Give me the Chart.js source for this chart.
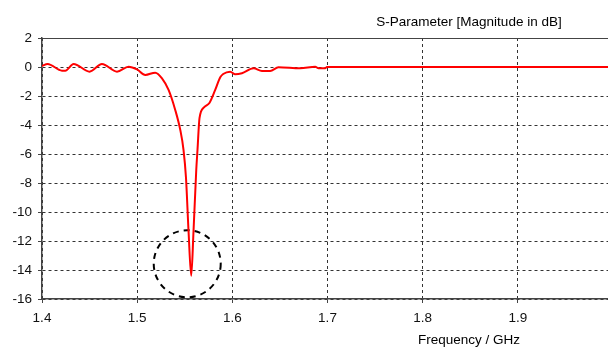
<!DOCTYPE html>
<html>
<head>
<meta charset="utf-8">
<script src="https://cdn.jsdelivr.net/npm/chart.js@4.4.1/dist/chart.umd.min.js"></script>
<style>
  html, body { margin: 0; padding: 0; background: #fff; overflow: hidden; }
  #wrap { width: 640px; height: 347px; position: relative; }
</style>
</head>
<body>
<div id="wrap"><canvas id="sparam"></canvas></div>
<script>
// -----------------------------
// Data
// -----------------------------
const freqGHz = [
  1.4000, 1.4059, 1.4210, 1.4245, 1.4332, 1.4500, 1.4630, 1.4788, 1.4910, 1.4998,
  1.5085, 1.5190, 1.5261, 1.5330, 1.5400, 1.5453, 1.5487, 1.5513, 1.5540, 1.5568,
  1.5592, 1.5621, 1.5634, 1.5655, 1.5705, 1.5761, 1.5820, 1.5873, 1.5904, 1.5978,
  1.6030, 1.6101, 1.6223, 1.6311, 1.6398, 1.6485, 1.6713, 1.6871, 1.6906, 1.6976,
  1.6994, 1.7500, 1.8000, 1.9000, 2.0000
];
const s11dB = [
   0.07,  0.21, -0.25, -0.25,  0.21, -0.32,  0.21, -0.32,  0.02, -0.16,
  -0.55, -0.39, -0.78, -1.58, -2.96, -4.34, -5.71, -7.64, -11.34, -14.40,
  -11.34, -7.09, -5.71, -3.53, -2.77, -2.46, -1.58, -0.71, -0.48, -0.32,
  -0.50, -0.43, -0.09, -0.27, -0.27, -0.02, -0.09,  0.02, -0.09, -0.09,
   0.00,  0.00,  0.00,  0.00,  0.00
];
const xTicks = [1.4, 1.5, 1.6, 1.7, 1.8, 1.9, 2.0];
const yTicks = [-16, -14, -12, -10, -8, -6, -4, -2, 0, 2];
const chartTitle = "S-Parameter [Magnitude in dB]";
const xTitle = "Frequency / GHz";
// dashed circle round the resonance: [GHz, dB], radius in GHz
const markerCenter = [1.5526, -13.57];
const markerRadius = 0.0352;

const FONT = '"Liberation Sans", Arial, sans-serif';

// -----------------------------
// Captions + marker circle
// -----------------------------
const decorations = {
  id: "decorations",
  beforeDatasetsDraw(chart) {
    const { ctx, scales } = chart;
    const cx = scales.x.getPixelForValue(markerCenter[0]);
    const cy = scales.y.getPixelForValue(markerCenter[1]);
    const r = scales.x.getPixelForValue(markerCenter[0] + markerRadius) - cx;
    ctx.save();
    ctx.strokeStyle = "#000";
    ctx.lineWidth = 2;
    ctx.setLineDash([6, 5]);
    ctx.beginPath();
    ctx.arc(cx, cy, r, 0, Math.PI * 2);
    ctx.stroke();
    ctx.restore();
  },
  afterDraw(chart) {
    const { ctx } = chart;
    ctx.save();
    ctx.font = "13.5px " + FONT;
    ctx.fillStyle = "#000";
    ctx.textAlign = "center";
    ctx.textBaseline = "middle";
    ctx.fillText(chartTitle, 469, 22);
    ctx.fillText(xTitle, 469, 340);
    ctx.restore();
  }
};

const gridDash = ctx => (ctx.tick && ctx.tick.value === 2 ? [] : [3, 3]);
const gridColor = ctx => (ctx.tick && ctx.tick.value === 2 ? "#444" : "#333");

new Chart(document.getElementById("sparam"), {
  type: "line",
  data: {
    datasets: [{
      data: freqGHz.map((f, i) => ({ x: f, y: s11dB[i] })),
      borderColor: "#ff0000",
      borderWidth: 2,
      pointRadius: 0,
      cubicInterpolationMode: "monotone",
      fill: false
    }]
  },
  options: {
    responsive: true,
    maintainAspectRatio: false,
    animation: false,
    layout: { padding: { top: 38, right: 27, left: 0, bottom: 0 } },
    plugins: {
      legend: { display: false },
      tooltip: { enabled: false },
      title: { display: false }
    },
    scales: {
      x: {
        type: "linear",
        min: 1.4,
        max: 2.0,
        afterBuildTicks: s => { s.ticks = xTicks.map(v => ({ value: v })); },
        afterFit: s => { s.height = 48; },
        ticks: {
          color: "#111",
          font: { family: FONT, size: 13.5 },
          padding: 7,
          maxRotation: 0,
          callback: v => (v >= 1.99 ? "" : v.toFixed(1))
        },
        grid: { color: "#333", lineWidth: 1, tickLength: 4, tickColor: "#444" },
        border: { display: true, color: "#444", width: 1.5, dash: [3, 3] }
      },
      y: {
        min: -16,
        max: 2,
        afterBuildTicks: s => { s.ticks = yTicks.map(v => ({ value: v })); },
        afterFit: s => { s.width = 42; },
        ticks: {
          color: "#111",
          font: { family: FONT, size: 13.5 },
          padding: 6,
          callback: v => String(v)
        },
        grid: { color: gridColor, lineWidth: 1, tickLength: 4, tickColor: "#444" },
        border: { display: true, color: "#444", width: 1.5, dash: gridDash }
      }
    }
  },
  plugins: [decorations]
});
</script>
</body>
</html>
